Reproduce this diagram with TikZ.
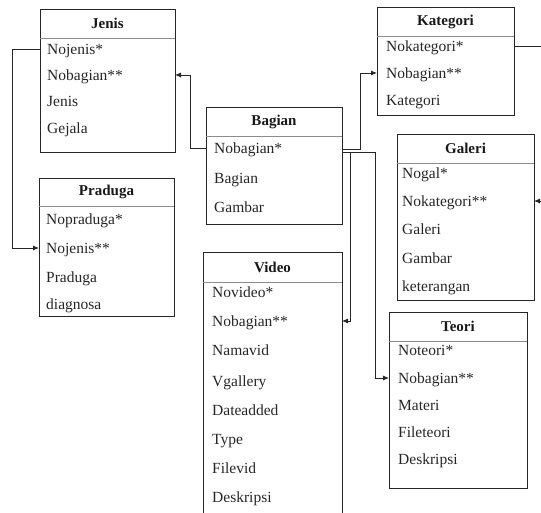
\documentclass[tikz,border=0pt]{standalone}
\usepackage{fontspec}
\setmainfont{Liberation Serif}
\usetikzlibrary{arrows.meta}
\begin{document}
\begin{tikzpicture}[x=1pt,y=-1pt,
  entity/.style={draw=black!85, line width=0.9pt, anchor=north west,
    inner sep=0pt, outer sep=0pt},
  headline/.style={draw=black!45, line width=0.8pt},
  title/.style={font=\fontsize{15}{18}\selectfont\bfseries, inner sep=0pt,
    text=black!90},
  field/.style={font=\fontsize{15.5}{18}\selectfont, anchor=west, inner sep=0pt,
    text height=12pt, text depth=1pt, text=black!85},
  link/.style={draw=black!85, line width=0.8pt, -{Latex[length=6pt,width=5pt]}}
]
\useasboundingbox (0,0) rectangle (541,512);

% ---- Jenis ----
\node[entity, minimum width=135pt, minimum height=143pt] (jenis) at (40,9) {};
\draw[headline] ([yshift=-29pt]jenis.north west) -- ([yshift=-29pt]jenis.north east);
\node[title] at ([yshift=-14.5pt]jenis.north) {Jenis};
\node[field] (jenis-1) at (47,49)  {Nojenis*};
\node[field] (jenis-2) at (47,75)  {Nobagian**};
\node[field] (jenis-3) at (47,101) {Jenis};
\node[field] (jenis-4) at (47,128) {Gejala};

% ---- Praduga ----
\node[entity, minimum width=135pt, minimum height=138pt] (praduga) at (39,178) {};
\draw[headline] ([yshift=-28pt]praduga.north west) -- ([yshift=-28pt]praduga.north east);
\node[title] at ([yshift=-14pt]praduga.north) {Praduga};
\node[field] (praduga-1) at (46,219) {Nopraduga*};
\node[field] (praduga-2) at (46,248) {Nojenis**};
\node[field] (praduga-3) at (46,277) {Praduga};
\node[field] (praduga-4) at (46,304) {diagnosa};

% ---- Bagian ----
\node[entity, minimum width=136pt, minimum height=117pt] (bagian) at (206,107) {};
\draw[headline] ([yshift=-29pt]bagian.north west) -- ([yshift=-29pt]bagian.north east);
\node[title] at ([yshift=-14.5pt]bagian.north) {Bagian};
\node[field] (bagian-1) at (214,148) {Nobagian*};
\node[field] (bagian-2) at (214,178) {Bagian};
\node[field] (bagian-3) at (214,207) {Gambar};

% ---- Video ----
\node[entity, minimum width=139pt, minimum height=265pt] (video) at (203,252) {};
\draw[headline] ([yshift=-30pt]video.north west) -- ([yshift=-30pt]video.north east);
\node[title] at ([yshift=-15pt]video.north) {Video};
\node[field] (video-1) at (212,292) {Novideo*};
\node[field] (video-2) at (212,321) {Nobagian**};
\node[field] (video-3) at (212,350) {Namavid};
\node[field] (video-4) at (212,381) {Vgallery};
\node[field] (video-5) at (212,410) {Dateadded};
\node[field] (video-6) at (212,439) {Type};
\node[field] (video-7) at (212,468) {Filevid};
\node[field] (video-8) at (212,497) {Deskripsi};

% ---- Kategori ----
\node[entity, minimum width=137pt, minimum height=108pt] (kategori) at (377,7) {};
\draw[headline] ([yshift=-29pt]kategori.north west) -- ([yshift=-29pt]kategori.north east);
\node[title] at ([yshift=-14.5pt]kategori.north) {Kategori};
\node[field] (kategori-1) at (386,46)  {Nokategori*};
\node[field] (kategori-2) at (386,73)  {Nobagian**};
\node[field] (kategori-3) at (386,100) {Kategori};

% ---- Galeri ----
\node[entity, minimum width=137pt, minimum height=166pt] (galeri) at (397,134) {};
\draw[headline] ([yshift=-29pt]galeri.north west) -- ([yshift=-29pt]galeri.north east);
\node[title] at ([yshift=-14.5pt]galeri.north) {Galeri};
\node[field] (galeri-1) at (402,173) {Nogal*};
\node[field] (galeri-2) at (402,201) {Nokategori**};
\node[field] (galeri-3) at (402,229) {Galeri};
\node[field] (galeri-4) at (402,258) {Gambar};
\node[field] (galeri-5) at (402,286) {keterangan};

% ---- Teori ----
\node[entity, minimum width=138pt, minimum height=176pt] (teori) at (389,312) {};
\draw[headline] ([yshift=-29pt]teori.north west) -- ([yshift=-29pt]teori.north east);
\node[title] at ([yshift=-14.5pt]teori.north) {Teori};
\node[field] (teori-1) at (398,350) {Noteori*};
\node[field] (teori-2) at (398,378) {Nobagian**};
\node[field] (teori-3) at (398,405) {Materi};
\node[field] (teori-4) at (398,432) {Fileteori};
\node[field] (teori-5) at (398,459) {Deskripsi};

% ---- relations ----
\draw[link] (jenis.west |- jenis-1) -- ++(-28,0) |- (praduga.west |- praduga-2);
\draw[link] (bagian.west |- bagian-1) -- ++(-16,0) |- (jenis.east |- jenis-2);
\draw[link] (bagian.east |- bagian-1) ++(0,1) -- ++(18,0) |- (kategori.west |- kategori-2);
\draw[link] (bagian.east |- bagian-1) ++(0,4) -- ++(8,0) |- (video.east |- video-2);
\draw[link] (bagian.east |- bagian-1) ++(0,4) -- ++(33,0) |- (teori.west |- teori-2);
\draw[link] (kategori.east |- kategori-1) -- ++(32,0) |- (galeri.east |- galeri-2);
\end{tikzpicture}
\end{document}
